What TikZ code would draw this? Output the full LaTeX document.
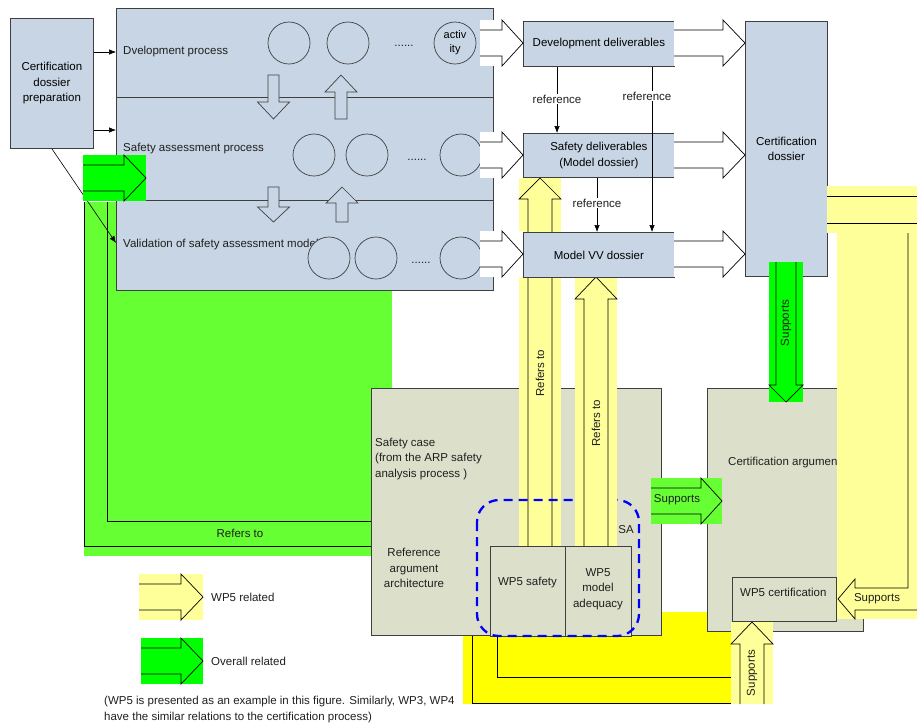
\documentclass[tikz,border=0pt]{standalone}
\usepackage{fontspec}
\setmainfont{Liberation Sans}
\usetikzlibrary{arrows.meta}
\definecolor{lblue}{HTML}{C8D5E4}
\definecolor{beige}{HTML}{DCDFCA}
\definecolor{lyel}{HTML}{FFFF99}
\definecolor{byel}{HTML}{FFFF00}
\definecolor{bgreen}{HTML}{00FF00}
\definecolor{lgreen}{HTML}{66FF33}
\definecolor{edge}{HTML}{3F3F3F}
% block arrow, horizontal: fill, back x, neck x, tip x, centre y, shaft half, head half
\newcommand{\ArrH}[7]{%
  \fill[#1] (#2,#5-#7) rectangle (#4,#5+#7);
  \draw[arrline] (#2,#5-#6) -- (#3,#5-#6) -- (#3,#5-#7) -- (#4,#5) -- (#3,#5+#7) -- (#3,#5+#6) -- (#2,#5+#6);}
% block arrow, vertical: fill, back y, neck y, tip y, centre x, shaft half, head half
\newcommand{\ArrV}[7]{%
  \fill[#1] (#5-#7,#2) rectangle (#5+#7,#4);
  \draw[arrline] (#5-#6,#2) -- (#5-#6,#3) -- (#5-#7,#3) -- (#5,#4) -- (#5+#7,#3) -- (#5+#6,#3) -- (#5+#6,#2);}
% small closed hollow arrow: back y, neck y, tip y, centre x, shaft half, head half
\newcommand{\SmallArr}[6]{%
  \filldraw[fill=lblue, draw=edge, line width=0.7pt] (#4-#5,#1) -- (#4-#5,#2) -- (#4-#6,#2) -- (#4,#3) -- (#4+#6,#2) -- (#4+#5,#2) -- (#4+#5,#1) -- cycle;}
\begin{document}
\begin{tikzpicture}[x=1pt,y=-1pt,
  font=\fontsize{11.5}{15.5}\selectfont,
  box/.style={draw=edge, line width=0.8pt, inner sep=0pt, anchor=north west, align=center},
  arrline/.style={draw=black, line width=0.7pt, line join=miter},
  lbl/.style={inner sep=1pt, text=black!88, align=center},
  circ/.style={circle, draw=edge, line width=0.7pt, fill=lblue, minimum size=42pt, inner sep=0pt},
  conn/.style={-{Latex[length=7pt,width=5.5pt]}, line width=0.6pt, draw=black}]
\useasboundingbox (0,0) rectangle (917,724);

% ---- big green "Refers to" body
\fill[lgreen] (84,202) rectangle (392,556);
\draw[arrline] (84,202) -- (84,546) -- (371,546);
\draw[arrline] (107,202) -- (107,521) -- (371,521);
\node[lbl] (refbottom) at (240,533) {Refers to};

% ---- process box
\node[box, fill=lblue, minimum width=377pt, minimum height=282pt] (proc) at (116,8) {};
\draw[edge, line width=0.8pt] (proc.west |- 0,97) -- (proc.east |- 0,97);
\draw[edge, line width=0.8pt] (proc.west |- 0,200) -- (proc.east |- 0,200);
\node[lbl, anchor=west] (tdev) at (122,52) {Dvelopment process};
\node[lbl, anchor=west] (tsaf) at (122,149) {Safety assessment process};
\node[lbl, anchor=west] (tval) at (122,245) {Validation of safety assessment model};
\SmallArr{75}{102}{119}{273.5}{5.5}{16}
\SmallArr{119}{92}{75}{341}{6}{16}
\SmallArr{187}{207}{222}{273.5}{5.5}{16}
\SmallArr{222}{203}{187}{342}{6}{16}
\node[circ] (c11) at (289,43) {};
\node[circ] (c12) at (348,43) {};
\node[circ, font=\fontsize{11}{14}\selectfont, align=center] (c13) at (455,43) {activ\\ity};
\node[lbl] (d1) at (404,46) {......};
\node[circ] (c21) at (314,155) {};
\node[circ] (c22) at (367,155) {};
\node[circ] (c23) at (461,155) {};
\node[lbl] (d2) at (417,160) {......};
\node[circ] (c31) at (329,258) {};
\node[circ] (c32) at (376,258) {};
\node[circ] (c33) at (461,258) {};
\node[lbl] (d3) at (421,263) {......};

% ---- certification dossier preparation
\node[box, fill=lblue, minimum width=83pt, minimum height=130pt] (prep) at (10,18) {Certification\\dossier\\preparation};
\coordinate (ya) at (0,52);
\coordinate (yb) at (0,130);
\coordinate (yc) at (0,243);
\draw[conn] (prep.east |- ya) -- (proc.west |- ya);
\draw[conn] (prep.east |- yb) -- (proc.west |- yb);
\draw[conn] (prep.south) -- (proc.west |- yc);

% green head into the process box
\ArrH{bgreen}{83}{124}{146}{178}{13}{23}

% ---- bright yellow U arrow body
\fill[byel] (463,612) rectangle (740,704);
\draw[arrline] (472,636) -- (472,703) -- (731,703);
\draw[arrline] (497,637) -- (497,677) -- (731,677);

% ---- safety case
\node[box, fill=beige, minimum width=290pt, minimum height=247pt] (sc) at (371,388) {};
\node[lbl, anchor=west, align=left] (sctext) at (374,459) {Safety case\\(from the ARP safety\\analysis process )};
\node[lbl] (rarch) at (414,568) {Reference\\argument\\architecture};
\node[box, fill=beige, minimum width=75pt, minimum height=90pt] (wps) at (490,546) {};
\node[lbl] (wpstext) at (527.5,583) {WP5 safety};
\node[box, fill=beige, minimum width=66pt, minimum height=90pt] (wpm) at (565,546) {};
\node[lbl] (wpmtext) at (598,589) {WP5\\model\\adequacy};

% ---- certification argument
\node[box, fill=beige, minimum width=156pt, minimum height=243pt] (ca) at (707,388) {};
\node[lbl, anchor=west] (catext) at (727,463) {Certification argument};
\node[box, fill=beige, minimum width=104pt, minimum height=44pt] (wpc) at (732,577) {};
\node[lbl, anchor=west] (wpctext) at (739,592) {WP5 certification};

% ---- yellow "Refers to" arrows
\ArrV{lyel}{546}{199}{178}{540}{12}{21}
\node[lbl, rotate=90] (ref1) at (540,373) {Refers to};
\draw[blue, line width=2.3pt, dash pattern=on 9pt off 6pt, rounded corners=22pt] (477,500) rectangle (639,636);
\ArrV{lyel}{546}{299}{277}{596}{12}{21}
\node[lbl, rotate=90] (ref2) at (596,423) {Refers to};
\node[lbl] (sa) at (626,530) {SA};

% ---- deliverables
\node[box, fill=lblue, minimum width=151pt, minimum height=45pt] (dd) at (523,21) {Development deliverables};
\node[box, fill=lblue, minimum width=151pt, minimum height=44pt] (sd) at (523,133) {Safety deliverables\\(Model dossier)};
\node[box, fill=lblue, minimum width=151pt, minimum height=45pt] (mv) at (523,232) {Model VV dossier};
\node[box, fill=lblue, minimum width=82pt, minimum height=255pt] (cd) at (745,21) {Certification\\dossier};

\coordinate (xr1) at (557,0);
\coordinate (xr2) at (652,0);
\coordinate (xr3) at (597,0);
\draw[conn] (dd.south -| xr1) -- (sd.north -| xr1);
\draw[conn] (dd.south -| xr2) -- (mv.north -| xr2);
\draw[conn] (sd.south -| xr3) -- (mv.north -| xr3);
\node[lbl, fill=white] (rl1) at (557,99) {reference};
\node[lbl, fill=white] (rl2) at (647,96) {reference};
\node[lbl, fill=white] (rl3) at (597,203) {reference};

% ---- white arrows
\ArrH{white}{480}{502}{523}{43}{13}{23}
\ArrH{white}{480}{502}{523}{155}{13}{23}
\ArrH{white}{480}{502}{523}{254}{13}{23}
\ArrH{white}{674}{723}{745}{43}{13}{23}
\ArrH{white}{674}{723}{745}{155}{13}{23}
\ArrH{white}{674}{723}{745}{254}{13}{23}

% ---- green supports arrows
\ArrH{lgreen}{651}{701}{722}{501}{13}{23}
\node[lbl] (sup1) at (677,500) {Supports};
\ArrV{bgreen}{262}{385}{402}{786}{10}{17}
\node[lbl, rotate=90] (sup2) at (786,323) {Supports};

% ---- big right yellow arrow
\fill[lyel] (827,186) rectangle (917,233);
\fill[lyel] (837,233) rectangle (917,619);
\draw[arrline] (827,196) -- (917,196);
\draw[arrline] (827,223) -- (917,223);
\draw[arrline] (908,233) -- (908,588) -- (855,588) -- (855,579) -- (838,599) -- (855,619) -- (855,610) -- (917,610);
\node[lbl] (sup3) at (877,599) {Supports};

% ---- yellow supports up arrow
\ArrV{lyel}{704}{644}{622}{752}{12}{21}
\node[lbl, rotate=90] (sup4) at (752,673) {Supports};

% ---- legend
\ArrH{lyel}{139}{181}{203}{597}{13}{23}
\node[lbl, anchor=west] (leg1) at (210,597) {WP5 related};
\ArrH{bgreen}{141}{181}{203}{661}{13}{23}
\node[lbl, anchor=west] (leg2) at (210,661) {Overall related};
\node[lbl, anchor=west, align=left, font=\fontsize{11.5}{16}\selectfont] (note) at (103,710) {(WP5 is presented as an example in this figure. Similarly, WP3, WP4\\have the similar relations to the certification process)};
\end{tikzpicture}
\end{document}
